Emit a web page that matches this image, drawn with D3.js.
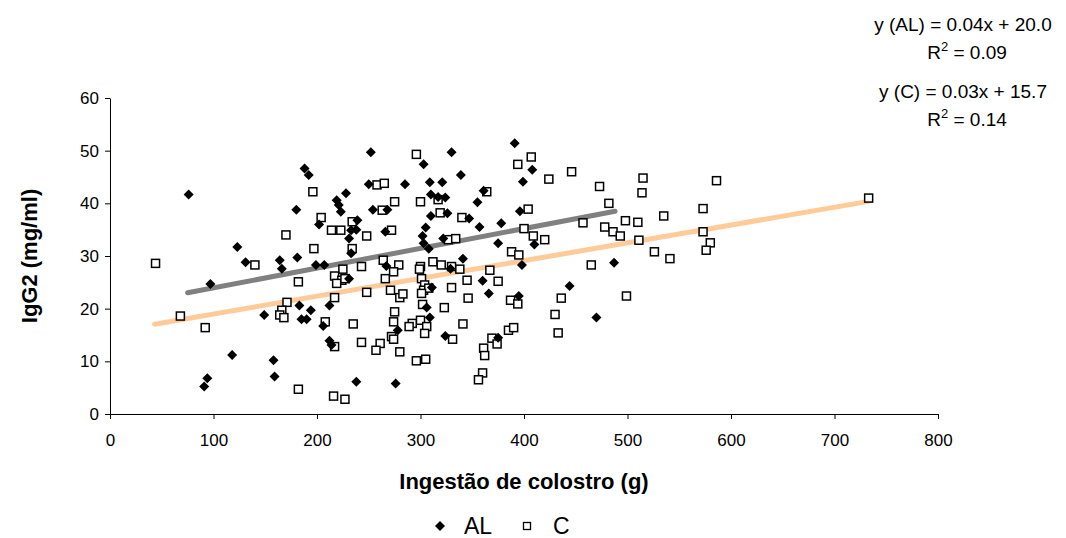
<!DOCTYPE html>
<html><head><meta charset="utf-8">
<script src="https://cdn.jsdelivr.net/npm/d3@7"></script>
<style>
body{margin:0;background:#fff;}
svg{display:block;font-family:"Liberation Sans",Arial,sans-serif;}
</style></head>
<body><svg id="c" width="1066" height="538"></svg>
<script>
// AL series (Ingestão de colostro g, IgG2 mg/ml)
const alX = [76,123,131,97,118,94,91,252,188,192,250,228,219,221,223,180,254,202,239,233,238,231,233,164,181,166,199,207,231,149,183,194,212,185,190,206,212,214,158,159,238,
330,303,339,285,309,321,361,310,317,324,355,268,310,326,347,357,266,305,302,303,308,322,341,267,329,360,366,311,306,309,278,324,276,
391,408,399,396,378,410,375,398,395,444,470,375,487];
const alY = [41.7,31.7,28.8,24.7,11.2,6.8,5.2,49.7,46.6,45.4,43.6,41.9,40.6,39.7,38.4,38.8,38.8,36,36.8,34.9,35,33.3,30.5,29.2,29.7,27.6,28.3,28.3,25.7,18.8,20.6,19.7,20.6,18,18,16.7,13.9,13.1,10.2,7.1,6.1,
49.7,47.4,45.4,43.6,44,44,42.4,41.7,41.2,41.1,40.2,38.8,37.6,38.1,37.1,35.5,34.6,35.4,33.8,32.4,31.4,33.3,29.5,28.1,27.6,25.3,22.9,24,20.2,18.3,15.9,14.8,5.8,
51.4,46.4,44.1,38.5,36.2,32.2,32.4,28.3,22.4,24.3,18.3,14.5,28.7];
// C series
const cX = [44,140,68,92,196,258,204,214,223,234,248,170,197,234,225,243,217,224,219,227,182,248,217,171,166,164,168,208,235,217,243,182,216,227,
296,265,364,317,275,300,263,319,340,272,327,334,264,279,300,312,320,330,274,266,299,338,345,301,304,303,308,301,330,271,280,283,346,302,323,275,300,292,289,274,306,304,341,331,272,274,261,257,280,296,305,361,362,360,356,
407,394,424,446,473,404,400,457,478,409,420,388,395,465,367,375,387,394,436,430,433,385,390,369,374,
515,586,514,482,573,733,535,498,510,486,493,573,511,580,576,526,541,499];
const cY = [28.6,28.3,18.6,16.4,42.2,43.5,37.3,34.9,34.9,36.5,33.8,34,31.4,31.4,27.5,28,26.2,25.4,24.8,25.7,25.1,23.1,22.1,21.2,19.7,18.8,18.3,17.5,17.1,12.8,13.6,4.7,3.4,2.8,
49.3,43.8,42.2,40.7,40.3,40.3,38.7,38.2,37.3,34.9,33.1,33.3,29.2,28.3,28,28.9,28.3,28,27,25.7,27.5,27.5,25.4,25.7,24.5,23.5,23.9,22.9,24,23.5,22.1,22.8,22,20.8,20.2,19.4,17.8,17.2,16.6,17.5,16.6,15.3,17.1,14.2,14.7,14.2,13.4,12.1,11.8,10.1,10.4,12.5,11.1,7.8,6.5,
48.8,47.4,44.6,46,43.2,38.9,35.2,36.3,35.5,33.8,33.1,30.8,30.2,28.3,27.3,25.2,21.6,20.9,22,18.9,15.4,15.9,16.4,14.4,13.3,
44.8,44.3,42,40,39,41,37.6,36.7,36.4,34.6,33.8,34.6,33,32.5,31.1,30.8,29.5,22.4];
// trend lines: [slope, intercept, xmin, xmax]
const trendAL = [0.0375, 20.2, 75, 488];
const trendC = [0.0338, 15.6, 43, 733];
const xTicks = [0,100,200,300,400,500,600,700,800];
const yTicks = [0,10,20,30,40,50,60];
const equations = [
  {text:"y (AL) = 0.04x + 20.0", r2:"0.09"},
  {text:"y (C) = 0.03x + 15.7", r2:"0.14"}
];
const legendItems = ["AL","C"];

const svg = d3.select("#c");
const x = d3.scaleLinear().domain([0,800]).range([110,938]);
const y = d3.scaleLinear().domain([0,60]).range([414,98]);

// axes
const xa = svg.append("g").attr("transform","translate(0,414)")
  .call(d3.axisBottom(x).tickValues(xTicks).tickSize(5).tickPadding(15).tickSizeOuter(0));
const ya = svg.append("g").attr("transform","translate(110,0)")
  .call(d3.axisLeft(y).tickValues(yTicks).tickSize(5).tickPadding(6).tickSizeOuter(0));
[xa,ya].forEach(g=>{
  g.selectAll("path,line").attr("stroke","#000").attr("stroke-width",1);
  g.selectAll("text").attr("font-size",17).attr("fill","#000").attr("font-family","Liberation Sans, Arial, sans-serif");
});
xa.select(".domain").attr("d","M110,0.5H938");

// trendlines
function tl(t,color){
  svg.append("line")
    .attr("x1",x(t[2])).attr("y1",y(t[0]*t[2]+t[1]))
    .attr("x2",x(t[3])).attr("y2",y(t[0]*t[3]+t[1]))
    .attr("stroke",color).attr("stroke-width",5).attr("stroke-linecap","round");
}
tl(trendC,"#FFCC99");
tl(trendAL,"#808080");

// points
const cData = cX.map((v,i)=>[v,cY[i]]);
const alData = alX.map((v,i)=>[v,alY[i]]);
svg.append("g").selectAll("rect").data(cData).join("rect")
  .attr("x",d=>x(d[0])-4).attr("y",d=>y(d[1])-4)
  .attr("width",8).attr("height",8)
  .attr("fill","#fff").attr("stroke","#000").attr("stroke-width",1.5);
svg.append("g").selectAll("path").data(alData).join("path")
  .attr("d",d=>{const cx=x(d[0]),cy=y(d[1]),r=5;return `M${cx},${cy-r}L${cx+r},${cy}L${cx},${cy+r}L${cx-r},${cy}Z`;})
  .attr("fill","#000");

// axis titles
svg.append("text").attr("x",524).attr("y",489).attr("text-anchor","middle")
  .attr("font-size",22).attr("font-weight","bold").text("Ingestão de colostro (g)");
svg.append("text").attr("transform","translate(37,256) rotate(-90)").attr("text-anchor","middle")
  .attr("font-size",22).attr("font-weight","bold").text("IgG2 (mg/ml)");

// equations
equations.forEach((e,i)=>{
  const by = 31 + i*67;
  svg.append("text").attr("x",963).attr("y",by).attr("text-anchor","middle")
    .attr("font-size",19).text(e.text);
  const t = svg.append("text").attr("x",967).attr("y",by+28).attr("text-anchor","middle").attr("font-size",19);
  t.append("tspan").text("R");
  t.append("tspan").attr("font-size",13).attr("dy",-8).text("2");
  t.append("tspan").attr("dy",8).text(" = "+e.r2);
});

// legend
const lg = svg.append("g");
lg.append("path").attr("d","M440,521L445,526L440,531L435,526Z").attr("fill","#000");
lg.append("text").attr("x",464).attr("y",534).attr("font-size",23).text(legendItems[0]);
lg.append("rect").attr("x",523.5).attr("y",522.5).attr("width",7).attr("height",7)
  .attr("fill","#fff").attr("stroke","#000").attr("stroke-width",1.3);
lg.append("text").attr("x",553).attr("y",534).attr("font-size",23).text(legendItems[1]);
</script></body></html>
